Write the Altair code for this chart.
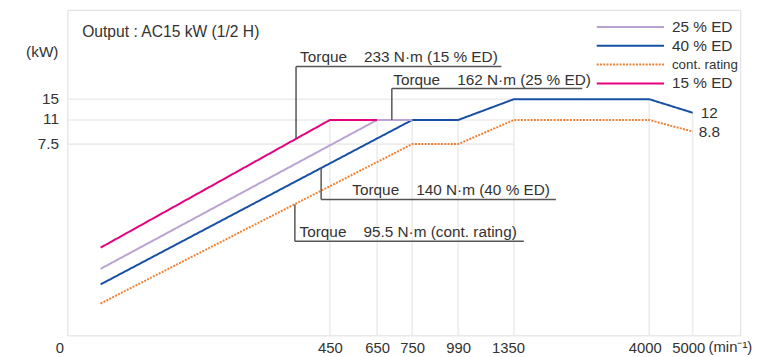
import altair as alt
import pandas as pd

# ---------------- data ----------------
series_names = ["25 % ED", "40 % ED", "cont. rating", "15 % ED"]
series_colors = ["#b9a3d3", "#1650a3", "#f08032", "#e4007f"]

speed_15 = [57, 450, 650]
power_15 = [3.44, 11, 11]
speed_25 = [57, 650, 750]
power_25 = [2.61, 11, 11]
speed_40 = [57, 750, 990, 1350, 4000, 5000]
power_40 = [2.0, 11, 11, 15, 15, 12]
speed_cont = [57, 750, 990, 1350, 4000, 5000]
power_cont = [1.25, 7.5, 7.5, 11, 11, 8.8]

x_ticks = [0, 450, 650, 750, 990, 1350, 4000, 5000]
y_ticks = [7.5, 11, 15]

# vertical grid lines reach up to the envelope of the curves
grid_speed = [450, 650, 750, 990, 1350, 4000, 5000]
grid_top = [11, 11, 11, 11, 15, 15, 12]
# horizontal grid lines run from 0 to 1350 min-1
grid_levels = [7.5, 11, 15]
grid_end = 1350

# torque annotations (leg down to the curve, bar under the text)
ann_labels = [
    "Torque\u00a0\u00a0\u00a0\u00a0233 N\u00b7m (15 % ED)",
    "Torque\u00a0\u00a0\u00a0\u00a0162 N\u00b7m (25 % ED)",
    "Torque\u00a0\u00a0\u00a0\u00a0140 N\u00b7m (40 % ED)",
    "Torque\u00a0\u00a0\u00a0\u00a095.5 N\u00b7m (cont. rating)",
]
ann_leg_x = [392, 692, 435, 390]
ann_leg_y = [8.07, 11, 6.57, 5.13]
ann_bar_y = [20.5, 16.8, 5.33, 3.69]
ann_bar_x2 = [1269, 2688, 2172, 1544]
ann_text_x = [399, 696, 545, 398]

end_labels = ["12", "8.8"]
end_values = [12, 8.8]

# ---------------- tables ----------------
rows = []
for name, sp, pw in [("cont. rating", speed_cont, power_cont), ("40 % ED", speed_40, power_40),
                     ("25 % ED", speed_25, power_25), ("15 % ED", speed_15, power_15)]:
    for i, (s, p) in enumerate(zip(sp, pw)):
        rows.append({"series": name, "speed": s, "power": p, "idx": i})
lines_df = pd.DataFrame(rows)

vgrid_df = pd.DataFrame({"gspeed": [float(v) for v in grid_speed],
                         "gbottom": [0.0] * len(grid_speed),
                         "gtop": [float(v) for v in grid_top]})
hgrid_df = pd.DataFrame({"glevel": [float(v) for v in grid_levels],
                         "gstart": [0.0] * len(grid_levels),
                         "gend": [float(grid_end)] * len(grid_levels)})
ann_df = pd.DataFrame({"label": ann_labels, "leg_x": ann_leg_x, "leg_y": ann_leg_y,
                       "bar_y": ann_bar_y, "bar_x2": ann_bar_x2, "text_x": ann_text_x})

# ---------------- scales ----------------
FONT = "Liberation Sans, Arial, Helvetica, sans-serif"
TXT = "#333333"
GRID = "#ececec"

x_scale = alt.Scale(domain=[0, 450, 650, 750, 990, 1350, 4000, 5000],
                    range=[0, 265.3, 313, 348.5, 395, 451.3, 588, 632],
                    nice=False, zero=False)
y_scale = alt.Scale(domain=[0, 7.5, 8.8, 11, 12, 15, 30],
                    range=[329, 135.7, 123, 111.3, 104, 90.3, 0],
                    nice=False, zero=False)

x_axis = alt.Axis(values=x_ticks, title=None, grid=False, ticks=False, tickSize=0, domain=False,
                  format="d", labelOverlap=False, labelFlush=False,
                  labelPadding=5.5, labelFontSize=15, labelColor=TXT, labelFont=FONT,
                  labelOffset={"condition": [{"test": "datum.value == 0", "value": -8},
                                             {"test": "datum.value == 1350", "value": -6},
                                             {"test": "datum.value >= 4000", "value": -4.5}],
                               "value": 0})
y_axis = alt.Axis(values=y_ticks, title=None, grid=False, ticks=False, tickSize=0, domain=False,
                  format=".1~f", labelOverlap=False, labelFlush=False,
                  labelPadding=9, labelFontSize=15.5, labelColor=TXT, labelFont=FONT, labelOffset=-1)


def X(field, **kw):
    return alt.X(field, type="quantitative", scale=x_scale, axis=x_axis, **kw)


def Y(field, **kw):
    return alt.Y(field, type="quantitative", scale=y_scale, axis=y_axis, **kw)


hgrid = alt.Chart(hgrid_df).mark_rule(color=GRID, strokeWidth=1.6).encode(
    x=X("gstart"), x2="gend", y=Y("glevel"))
vgrid = alt.Chart(vgrid_df).mark_rule(color=GRID, strokeWidth=1.6).encode(
    x=X("gspeed"), y=Y("gbottom"), y2="gtop")

legend = alt.Legend(title=None, orient="none", legendX=534, legendY=8, symbolType="stroke",
                    symbolSize=4624, symbolStrokeWidth=2, clipHeight=18.7, rowPadding=0,
                    labelOffset=7, padding=0, labelFont=FONT, labelColor=TXT,
                    labelFontSize={"expr": "datum.label == 'cont. rating' ? 13.5 : 15.5"},
                    labelLimit=200)

lines = alt.Chart(lines_df).mark_line(strokeWidth=2).encode(
    x=X("speed"), y=Y("power"),
    color=alt.Color("series:N", scale=alt.Scale(domain=series_names, range=series_colors), legend=legend),
    strokeDash=alt.StrokeDash("series:N", scale=alt.Scale(domain=series_names,
                                                          range=[[1, 0], [1, 0], [2, 1.3], [1, 0]]),
                              legend=legend),
    order="idx:Q",
)

legs = alt.Chart(ann_df).mark_rule(color="#555555", strokeWidth=1.5).encode(
    x=X("leg_x"), y=Y("leg_y"), y2="bar_y")
bars = alt.Chart(ann_df).mark_rule(color="#555555", strokeWidth=1.5).encode(
    x=X("leg_x"), x2="bar_x2", y=Y("bar_y"))
ann_text = alt.Chart(ann_df).mark_text(align="left", baseline="alphabetic", dy=-4, fontSize=15.5,
                                       font=FONT, color=TXT).encode(
    x=X("text_x"), y=Y("bar_y"), text="label:N")


def label(text, x, y, dx=0, dy=0, align="left", size=15.5):
    df = pd.DataFrame({"t": [text], "x": [x], "y": [y]})
    return alt.Chart(df).mark_text(align=align, baseline="alphabetic", dx=dx, dy=dy, fontSize=size,
                                   font=FONT, color=TXT).encode(x=X("x"), y=Y("y"), text="t:N")


title_txt = label("Output : AC15 kW (1/2 H)", 25.4, 25.47, size=15.8)
kw_txt = label("(kW)", 0, 22.0, dx=-9, align="right")
end12 = label(end_labels[0], 5000, end_values[0], dx=8, dy=5.5)
end88 = label(end_labels[1], 5000, end_values[1], dx=6, dy=5.7)
unit_txt = label("(min\u207b\u00b9)", 5000, 0, dx=16, dy=17.3, size=15)

chart = alt.layer(hgrid, vgrid, lines, legs, bars, ann_text, title_txt, kw_txt, end12, end88, unit_txt).properties(
    width=680, height=329,
    autosize=alt.AutoSizeParams(type="none"),
    padding={"left": 60, "top": 0, "right": 20, "bottom": 20},
).configure_view(stroke=None, fill="#d3d4d6").configure(background="white")

chart.save("out.html", embed_options={"renderer": "svg", "actions": False})
